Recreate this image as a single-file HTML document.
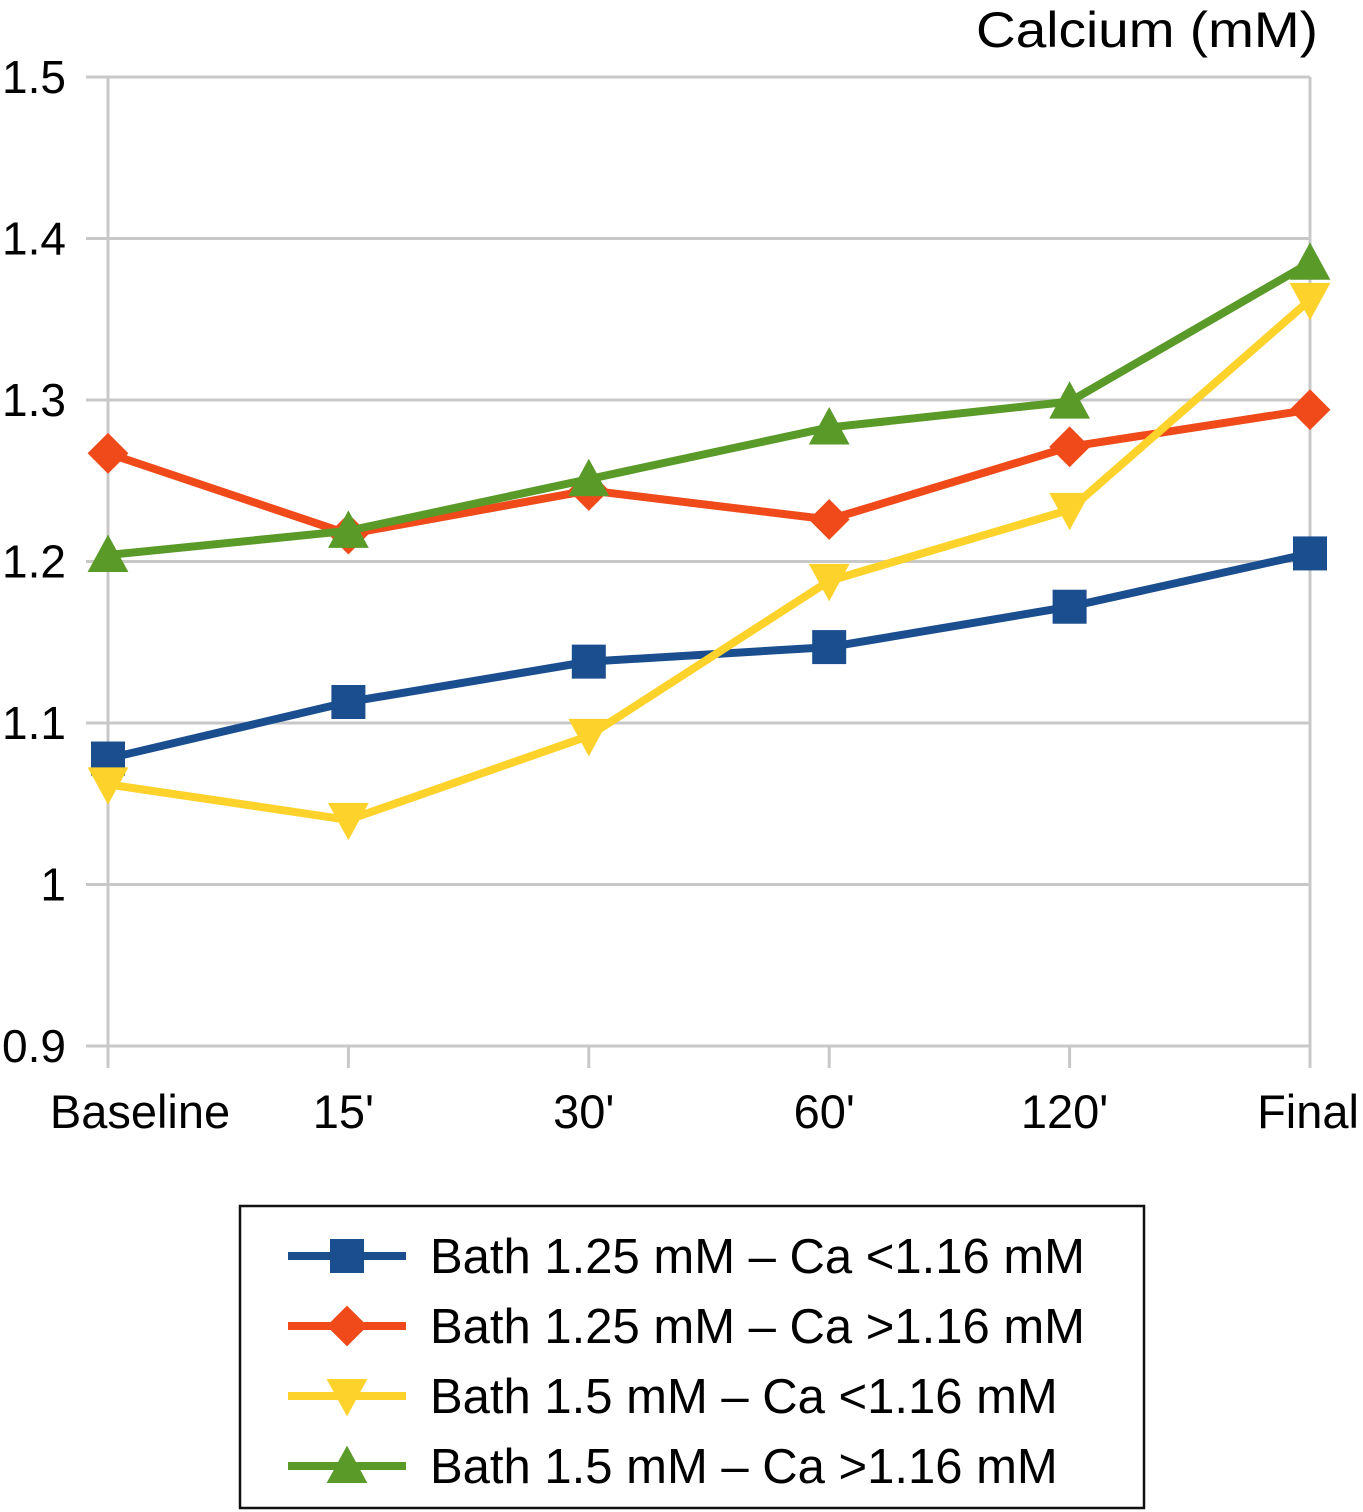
<!DOCTYPE html>
<html><head><meta charset="utf-8"><style>
body{margin:0;background:#fff}
svg{display:block;font-family:"Liberation Sans",Arial,sans-serif}
</style></head><body>
<svg id="chart" width="1363" height="1512" viewBox="0 0 1363 1512">
<text x="976" y="47" font-size="50" textLength="342" lengthAdjust="spacingAndGlyphs">Calcium (mM)</text>
<g id="grid"></g><g id="series"></g>
<g>
<rect x="240" y="1206" width="904" height="302" fill="#fff" stroke="#111" stroke-width="2.5"/>
<g id="legend"></g>
</g>
</svg>
<script>
const categories=["Baseline","15'","30'","60'","120'","Final"];
const yTicks=[0.9,1,1.1,1.2,1.3,1.4,1.5];
const yTickLabels=["0.9","1","1.1","1.2","1.3","1.4","1.5"];
const seriesNames=["Bath 1.25 mM \u2013 Ca <1.16 mM","Bath 1.25 mM \u2013 Ca >1.16 mM","Bath 1.5 mM \u2013 Ca <1.16 mM","Bath 1.5 mM \u2013 Ca >1.16 mM"];
const blueVals=[1.078,1.113,1.138,1.147,1.172,1.205];
const redVals=[1.267,1.217,1.244,1.226,1.271,1.294];
const yellowVals=[1.062,1.040,1.092,1.188,1.232,1.362];
const greenVals=[1.204,1.219,1.251,1.283,1.299,1.385];
const NS="http://www.w3.org/2000/svg";
const x0=108,x1=1310,yTop=77,yBot=1046;
function xs(i){return x0+i*(x1-x0)/(categories.length-1);}
function ys(v){return yBot-(v-0.9)/(1.5-0.9)*(yBot-yTop);}
function mk(tag,attrs,parent){const e=document.createElementNS(NS,tag);for(const k in attrs)e.setAttribute(k,attrs[k]);parent.appendChild(e);return e;}
const grid=document.getElementById('grid');
yTicks.forEach((t,i)=>{
 const l=mk('line',{x1:86,x2:x1,y1:ys(t),y2:ys(t),stroke:'#c8c8c8','stroke-width':3},grid);
 
 
 const tx=mk('text',{x:66,y:ys(t)+16,'font-size':46,'text-anchor':'end'},grid);
 tx.textContent=yTickLabels[i];
 
 
});
const ax=mk('line',{x1:x0,x2:x0,y1:yTop,y2:yBot+22,stroke:'#c8c8c8','stroke-width':3},grid);


const rb=mk('line',{x1:x1,x2:x1,y1:yTop,y2:yBot+22,stroke:'#c8c8c8','stroke-width':3},grid);


categories.forEach((c,i)=>{
 const tk=mk('line',{x1:xs(i),x2:xs(i),y1:yBot,y2:yBot+22,stroke:'#c8c8c8','stroke-width':3},grid);
 
 
 let xx=xs(i)-5;
 if(i===0){xx=140;} if(i===categories.length-1){xx=1308;}
 const t=mk('text',{x:xx,y:1128,'font-size':47,'text-anchor':'middle'},grid);
 t.textContent=c;
 
 
});
const colors=['#1a4e8f','#f04a1a','#fdd22a','#5a9a28'];
const shapes=['square','diamond','down','up'];
function marker(g,shape,cx,cy,col,s){
 let e;
 if(shape==='square')e=mk('rect',{x:cx-s,y:cy-s,width:2*s,height:2*s,fill:col},g);
 else if(shape==='diamond')e=mk('polygon',{points:`${cx},${cy-s*1.2} ${cx+s*1.2},${cy} ${cx},${cy+s*1.2} ${cx-s*1.2},${cy}`,fill:col},g);
 else if(shape==='down')e=mk('polygon',{points:`${cx-s*1.2},${cy-s} ${cx+s*1.2},${cy-s} ${cx},${cy+s*1.2}`,fill:col},g);
 else e=mk('polygon',{points:`${cx-s*1.2},${cy+s} ${cx+s*1.2},${cy+s} ${cx},${cy-s*1.2}`,fill:col},g);
 return e;
}
const sg=document.getElementById('series');
const allVals=[blueVals,redVals,yellowVals,greenVals];
const sNames=['series-blue','series-red','series-yellow','series-green'];
allVals.forEach((vals,si)=>{
 const g=mk('g',{},sg);
 
 
 const p=mk('polyline',{points:vals.map((v,i)=>xs(i)+','+ys(v)).join(' '),fill:'none',stroke:colors[si],'stroke-width':8,'stroke-linejoin':'round'},g);
 
 
 vals.forEach((v,i)=>{
  const m=marker(g,shapes[si],xs(i),ys(v),colors[si],17);
  
  
 });
});
const lg=document.getElementById('legend');
seriesNames.forEach((n,si)=>{
 const y=1256+si*70;
 const g=mk('g',{},lg);
 
 
 mk('line',{x1:288,x2:406,y1:y,y2:y,stroke:colors[si],'stroke-width':8},g);
 marker(g,shapes[si],347,y,colors[si],17);
 const t=mk('text',{x:430,y:y+17,'font-size':49},g);
 t.textContent=n;
});
</script>
</body></html>
